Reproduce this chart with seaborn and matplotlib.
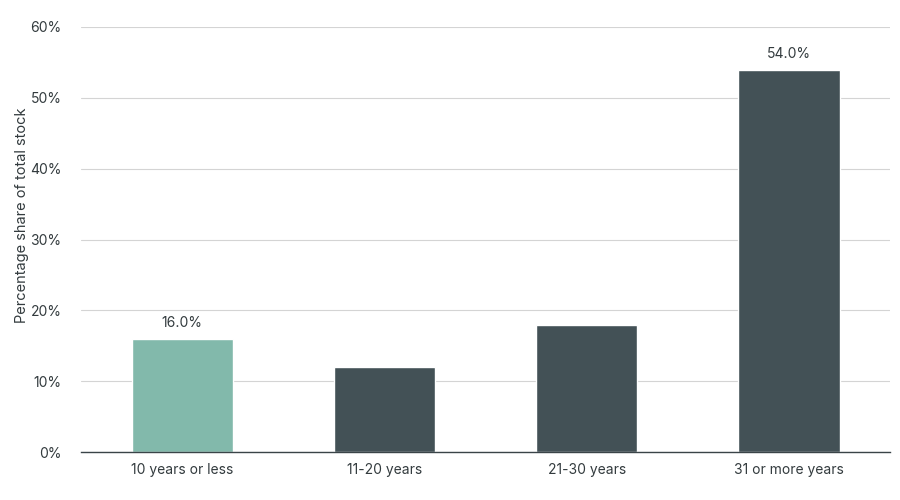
import matplotlib
matplotlib.use("Agg")
import matplotlib.pyplot as plt
import seaborn as sns
import pandas as pd
from matplotlib.ticker import FuncFormatter

# ---------------------------
# Data
# ---------------------------
categories = ["10 years or less", "11-20 years", "21-30 years", "31 or more years"]
shares = [16.0, 12.0, 18.0, 54.0]
labelled = [True, False, False, True]
bar_colors = ["#82b9ab", "#435156", "#435156", "#435156"]

df = pd.DataFrame({"age": categories, "share": shares})

sns.set_theme(style="white")
plt.rcParams["font.family"] = ["Inter", "DejaVu Sans"]
text_color = "#333b3e"

fig, ax = plt.subplots(figsize=(9, 5), dpi=100)
fig.subplots_adjust(left=0.09, right=0.989, bottom=0.096, top=0.946)

sns.barplot(data=df, x="age", y="share", hue="age", palette=bar_colors,
            width=0.5, legend=False, ax=ax, saturation=1)

for i, (v, show) in enumerate(zip(shares, labelled)):
    if show:
        ax.annotate(f"{v:.1f}%", (i, v), xytext=(0, 6), textcoords="offset points",
                    ha="center", va="bottom", fontsize=10, color=text_color)

ax.set_ylim(0, 60)
ax.set_xlim(-0.5, 3.5)
ax.set_yticks(range(0, 61, 10))
ax.yaxis.set_major_formatter(FuncFormatter(lambda v, p: f"{v:.0f}%"))
ax.grid(axis="y", color="#d4d4d4", linewidth=0.8)
ax.set_axisbelow(True)

ax.set_xlabel("")
ax.set_ylabel("Percentage share of total stock", fontsize=10.5, color=text_color)
ax.yaxis.set_label_coords(-0.0645, 0.558)
ax.tick_params(axis="both", labelsize=10, colors=text_color, length=0)
ax.tick_params(axis="x", pad=8)
ax.tick_params(axis="y", pad=14)

for s in ["top", "right", "left"]:
    ax.spines[s].set_visible(False)
ax.spines["bottom"].set_color("#3a4448")
ax.spines["bottom"].set_linewidth(1)

plt.savefig("out.png", dpi=100)
